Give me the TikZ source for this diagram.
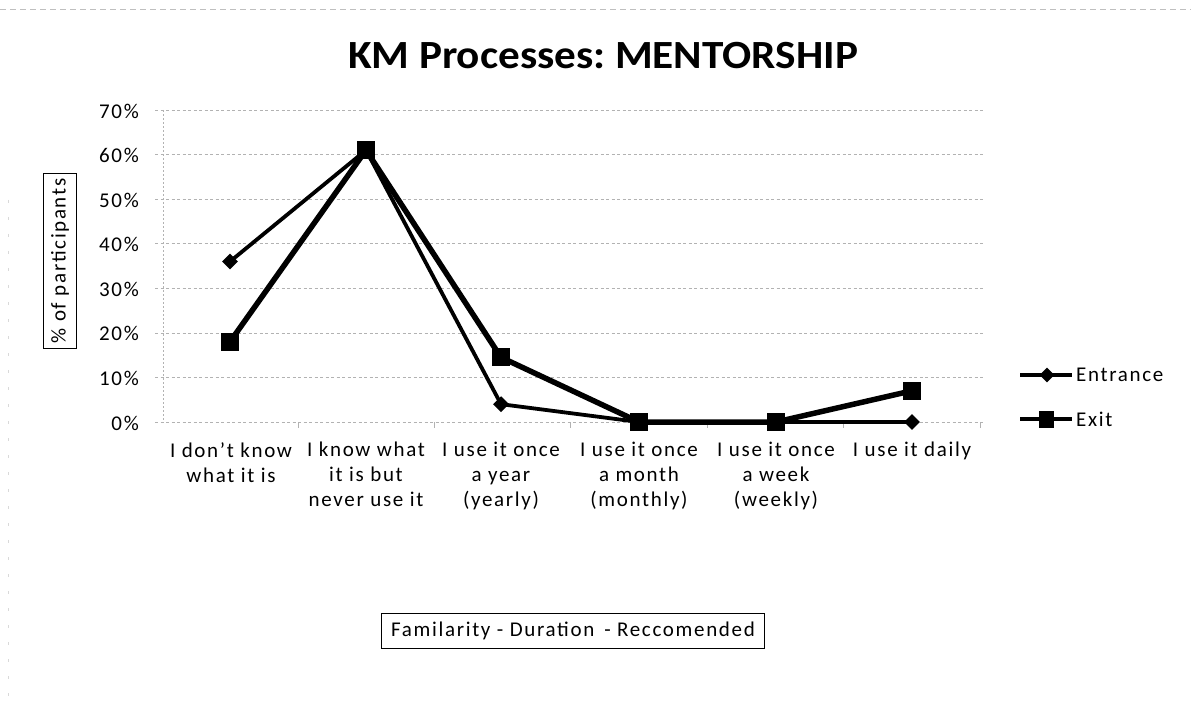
\documentclass[tikz,border=0pt]{standalone}
\usepackage{fontspec}
\setmainfont{Carlito}
\newfontfamily\lbl[LetterSpace=8]{Carlito}
\usetikzlibrary{shapes.geometric}
\begin{document}
\begin{tikzpicture}[x=1pt,y=-1pt,
  grid/.style={gray!60, line width=0.7pt, dash pattern=on 3pt off 2.5pt},
  tick/.style={font=\lbl\fontsize{21}{24}\selectfont, anchor=east, inner sep=0pt},
  cat/.style={font=\lbl\fontsize{21}{25}\selectfont, align=center, anchor=north, inner sep=0pt},
  entline/.style={line width=3.8pt, black},
  exline/.style={line width=5.5pt, black},
  entmark/.style={diamond, fill=black, minimum size=16pt, inner sep=0pt},
  exmark/.style={rectangle, fill=black, minimum size=18pt, inner sep=0pt},
  lexmark/.style={rectangle, fill=black, minimum width=15pt, minimum height=17pt, inner sep=0pt},
  legtext/.style={anchor=west, font=\lbl\fontsize{21}{24}\selectfont, inner sep=0pt},
  boxlbl/.style={draw, line width=1pt, font=\lbl\fontsize{21}{24}\selectfont, inner xsep=10pt, inner ysep=9pt}]
\useasboundingbox (0,0) rectangle (1191,703);
% faint scan borders
\draw[gray!50, line width=0.6pt, dash pattern=on 6pt off 4pt] (0,9) -- (1191,9);
\draw[gray!30, line width=0.8pt, dash pattern=on 3pt off 14pt] (8,200) -- (8,703);
% title
\node[font=\bfseries\fontsize{40}{44}\selectfont, anchor=base, xscale=1.08, inner sep=0pt] (title) at (603,69) {KM Processes:\ MENTORSHIP};
% grid and axes
\foreach \v/\t in {0/0\%,10/10\%,20/20\%,30/30\%,40/40\%,50/50\%,60/60\%,70/70\%}{
  \draw[grid] (155,422-4.457*\v) -- (985,422-4.457*\v);
  \node[tick] (yl\v) at (139,423-4.457*\v) {\t};
}
\draw[gray!60, line width=0.7pt, dash pattern=on 2pt off 2pt] (163,110) -- (163,422);
\foreach \x in {298,434,570,707,843,980}{
  \draw[gray!60, line width=0.7pt] (\x,422) -- (\x,428);
}
% axis title
\node[draw, line width=1pt, rotate=90, font=\lbl\fontsize{21}{24}\selectfont, inner xsep=5pt, inner ysep=8pt] (ytitle) at (60,261) {\% of participants};
% category labels
\node[cat] (c1) at (231,442) {I don’t know\\what it is};
\node[cat] (c2) at (366,442) {I know what\\it is but\\never use it};
\node[cat] (c3) at (501,442) {I use it once\\a year\\(yearly)};
\node[cat] (c4) at (639,442) {I use it once\\a month\\(monthly)};
\node[cat] (c5) at (776,442) {I use it once\\a week\\(weekly)};
\node[cat] (c6) at (912,442) {I use it daily};
% data: Entrance
\node[entmark] (e1) at (230,422-4.457*36) {};
\node[entmark] (e2) at (366,422-4.457*61) {};
\node[entmark] (e3) at (501,422-4.457*4) {};
\node[entmark] (e4) at (639,422) {};
\node[entmark] (e5) at (776,422) {};
\node[entmark] (e6) at (912,422) {};
\draw[entline] (e1.center) -- (e2.center) -- (e3.center) -- (e4.center) -- (e5.center) -- (e6.center);
% data: Exit
\node[exmark] (x1) at (230,422-4.457*18) {};
\node[exmark] (x2) at (366,422-4.457*61) {};
\node[exmark] (x3) at (501,422-4.457*14.5) {};
\node[exmark] (x4) at (639,422) {};
\node[exmark] (x5) at (776,422) {};
\node[exmark] (x6) at (912,422-4.457*7) {};
\draw[exline] (x1.center) -- (x2.center) -- (x3.center) -- (x4.center) -- (x5.center) -- (x6.center);
% legend
\coordinate (le1) at (1020,375);
\coordinate (le2) at (1072,375);
\draw[line width=4pt] (le1) -- (le2);
\node[entmark, minimum size=15pt] (lem) at (1047,375) {};
\node[legtext] (lent) at (1076,375) {Entrance};
\coordinate (lx1) at (1020,419);
\coordinate (lx2) at (1072,419);
\draw[line width=4pt] (lx1) -- (lx2);
\node[lexmark] (lxm) at (1046,419) {};
\node[legtext] (lext) at (1076,419) {Exit};
% bottom box
\node[boxlbl] (xtitle) at (573,631) {Familarity - Duration\, - Reccomended};
\end{tikzpicture}
\end{document}
